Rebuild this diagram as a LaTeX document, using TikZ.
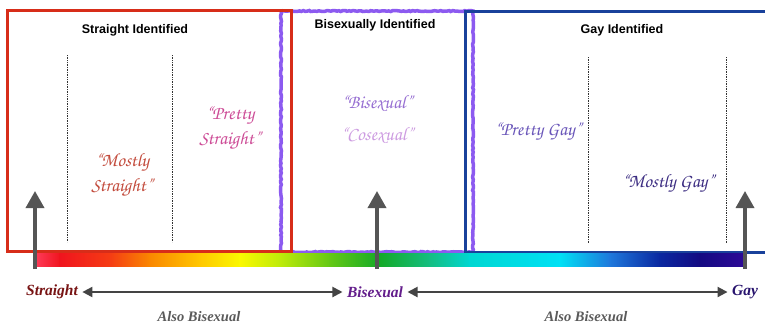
\documentclass[tikz,border=0pt]{standalone}
\usepackage{fontspec}
\setmainfont{Liberation Sans}
\newfontfamily\calfont{TeX Gyre Chorus}
\newfontfamily\labfont{Liberation Serif}
\usetikzlibrary{arrows.meta,decorations.pathmorphing}
\definecolor{redbox}{RGB}{215,45,25}
\definecolor{bluebox}{RGB}{25,65,155}
\definecolor{purplebox}{RGB}{140,90,240}
\definecolor{cmostlystr}{RGB}{195,75,60}
\definecolor{cprettystr}{RGB}{205,75,150}
\definecolor{cbisex}{RGB}{150,110,210}
\definecolor{ccosex}{RGB}{205,155,225}
\definecolor{cprettygay}{RGB}{105,85,185}
\definecolor{cmostlygay}{RGB}{60,45,130}
\definecolor{lstraight}{RGB}{120,20,20}
\definecolor{lbi}{RGB}{100,30,140}
\definecolor{lgay}{RGB}{40,20,110}
\definecolor{lalso}{RGB}{90,90,90}
\definecolor{arrowgray}{RGB}{85,85,85}
\definecolor{g0}{RGB}{255,60,90}
\definecolor{g1}{RGB}{240,20,30}
\definecolor{g2}{RGB}{245,60,20}
\definecolor{g3}{RGB}{250,135,0}
\definecolor{g4}{RGB}{255,200,0}
\definecolor{g5}{RGB}{250,248,0}
\definecolor{g6}{RGB}{190,235,10}
\definecolor{g7}{RGB}{100,200,20}
\definecolor{g8}{RGB}{20,170,40}
\definecolor{g9}{RGB}{20,190,130}
\definecolor{g10}{RGB}{0,215,210}
\definecolor{g11}{RGB}{0,225,245}
\definecolor{g12}{RGB}{30,120,220}
\definecolor{g13}{RGB}{10,40,160}
\definecolor{g14}{RGB}{20,10,130}
\definecolor{g15}{RGB}{45,10,150}
\tikzset{
  zonebox/.style={line width=3pt},
  title/.style={font=\bfseries\fontsize{12.5}{14}\selectfont, text=black},
  cal/.style={font=\calfont\fontsize{19}{21}\selectfont, align=center},
  lab/.style={font=\labfont\bfseries\itshape\fontsize{15.5}{18}\selectfont},
  also/.style={font=\labfont\bfseries\itshape\fontsize{14.5}{17}\selectfont, text=lalso},
  divider/.style={densely dotted, line width=0.7pt, black!80},
  bigarrow/.style={line width=3.5pt, arrowgray, -{Triangle[width=18pt,length=17pt]}},
  spanarrow/.style={line width=2pt, arrowgray!80!black, {Triangle[width=10pt,length=10pt]}-{Triangle[width=10pt,length=10pt]}}
}
\begin{document}
\begin{tikzpicture}[x=1pt,y=-1pt]
\useasboundingbox (0,0) rectangle (765,325);
\fill[white] (0,0) rectangle (765,325);
% purple box
\draw[purplebox, line width=3.5pt, decorate, decoration={random steps, segment length=2pt, amplitude=0.5pt}] (281,11) rectangle (473,252);
% red and blue boxes
\draw[redbox, zonebox] (7,10) rectangle (291,251);
\draw[bluebox, zonebox] (465,11) rectangle (772,252);
% gradient bar
\foreach \a/\b/\ca/\cb in {35/60/g0/g1, 60/110/g1/g2, 110/150/g2/g3, 150/200/g3/g4, 200/240/g4/g5, 240/280/g5/g6, 280/330/g6/g7, 330/380/g7/g8, 380/430/g8/g9, 430/470/g9/g10, 470/560/g10/g11, 560/610/g11/g12, 610/660/g12/g13, 660/700/g13/g14, 700/743/g14/g15}
  \shade[left color=\ca, right color=\cb] (\a-0.3,253) rectangle (\b+0.3,266);
% dotted dividers
\draw[divider] (67,55) -- (67,242);
\draw[divider] (172,55) -- (172,242);
\draw[divider] (588,57) -- (588,243);
\draw[divider] (726,57) -- (726,243);
% titles
\node[title] (t1) at (135,30) {Straight Identified};
\node[title] (t2) at (375,25) {Bisexually Identified};
\node[title] (t3) at (622,30) {Gay Identified};
% script labels
\node[cal, text=cmostlystr] (ms) at (122,175) {“Mostly\\[4pt]Straight”};
\node[cal, text=cprettystr] (ps) at (230,128) {“Pretty\\[4pt]Straight”};
\node[cal, text=cbisex] (bi) at (377,104) {“Bisexual”};
\node[cal, text=ccosex] (co) at (377,136) {“Cosexual”};
\node[cal, text=cprettygay] (pg) at (538,131) {“Pretty Gay”};
\node[cal, text=cmostlygay] (mg) at (668,183) {“Mostly Gay”};
% vertical arrows
\coordinate (a1b) at (35,269); \coordinate (a1t) at (35,191);
\coordinate (a2b) at (377,269); \coordinate (a2t) at (377,191);
\coordinate (a3b) at (745,269); \coordinate (a3t) at (745,191);
\draw[bigarrow] (a1b) -- (a1t);
\draw[bigarrow] (a2b) -- (a2t);
\draw[bigarrow] (a3b) -- (a3t);
% bottom labels
\node[lab, text=lstraight] (ls) at (52,292) {Straight};
\node[lab, text=lbi] (lb) at (375,292) {Bisexual};
\node[lab, text=lgay] (lg) at (745,292) {Gay};
\path (ls.east) ++(1,0) coordinate (s1) (lb.west) ++(-1,0) coordinate (s2);
\draw[spanarrow] (s1) -- (s2);
\path (lb.east) ++(1,0) coordinate (s3) (lg.west) ++(-1,0) coordinate (s4);
\draw[spanarrow] (s3) -- (s4);
\node[also] (al1) at (199,317) {Also Bisexual};
\node[also] (al2) at (586,317) {Also Bisexual};
\end{tikzpicture}
\end{document}
